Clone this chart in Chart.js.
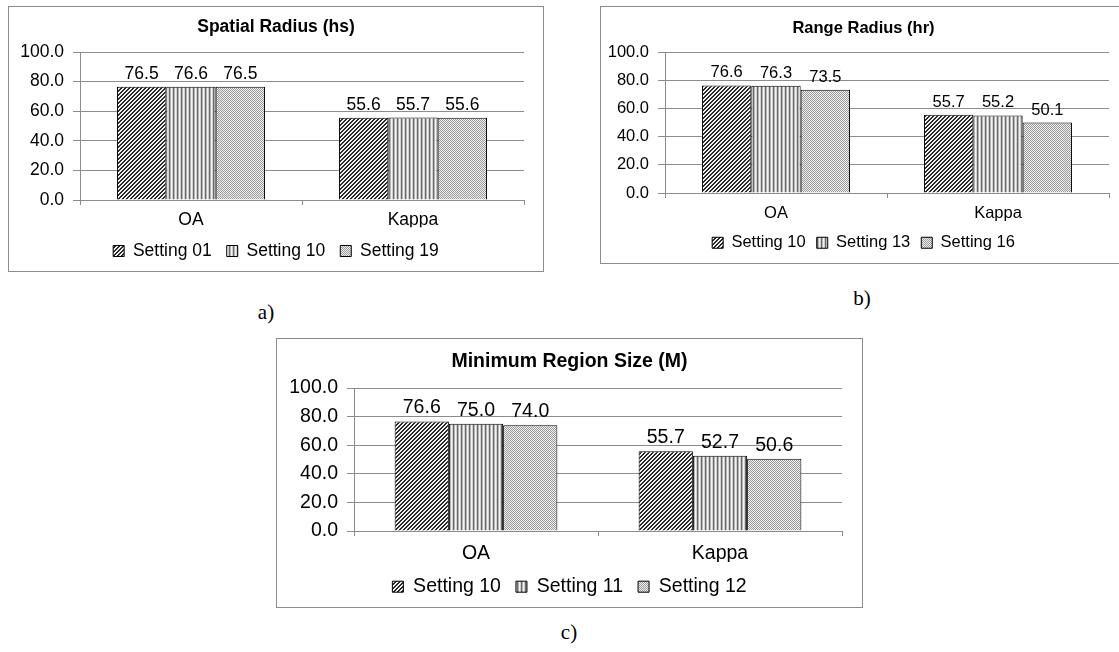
<!DOCTYPE html>
<html>
<head>
<meta charset="utf-8">
<script src="https://cdn.jsdelivr.net/npm/chart.js@4.4.0/dist/chart.umd.min.js"></script>
<style>
  html, body { margin: 0; padding: 0; background: #fff; }
  body { width: 1119px; height: 652px; position: relative; overflow: hidden; }
  .frame { position: absolute; border: 1px solid #8c8c8c; background: #fff; }
  .frame canvas { display: block; }
  .tag { position: absolute; width: 40px; text-align: center; font: 21px "Liberation Serif", "Times New Roman", serif; line-height: 24px; color: #000; }
</style>
</head>
<body>
<div class="frame" style="left:8px; top:6px;"><canvas id="chartA" width="534" height="264"></canvas></div>
<div class="frame" style="left:600px; top:6px;"><canvas id="chartB" width="525" height="256"></canvas></div>
<div class="frame" style="left:276px; top:338px;"><canvas id="chartC" width="585" height="268"></canvas></div>
<div class="tag" style="left:246px; top:300px;">a)</div>
<div class="tag" style="left:842px; top:286px;">b)</div>
<div class="tag" style="left:549px; top:620px;">c)</div>

<script>
// shared axis values
const categories = ["OA", "Kappa"];
const yMin = 0, yMax = 100, yStep = 20;

// a) Spatial Radius (hs)
const spatialSettings = ["Setting 01", "Setting 10", "Setting 19"];
const spatialS01 = [76.5, 55.6];
const spatialS10 = [76.6, 55.7];
const spatialS19 = [76.5, 55.6];

// b) Range Radius (hr)
const rangeSettings = ["Setting 10", "Setting 13", "Setting 16"];
const rangeS10 = [76.6, 55.7];
const rangeS13 = [76.3, 55.2];
const rangeS16 = [73.5, 50.1];

// c) Minimum Region Size (M)
const minSettings = ["Setting 10", "Setting 11", "Setting 12"];
const minS10 = [76.6, 55.7];
const minS11 = [75.0, 52.7];
const minS12 = [74.0, 50.6];

const FONT = '"Liberation Sans", Arial, sans-serif';
const GRID = "#8c8c8c";

// excel-like fill patterns
function makePattern(w, h, paint) {
  const c = document.createElement("canvas");
  c.width = w; c.height = h;
  const g = c.getContext("2d");
  for (let y = 0; y < h; y++) {
    for (let x = 0; x < w; x++) {
      g.fillStyle = paint(x, y);
      g.fillRect(x, y, 1, 1);
    }
  }
  return g.createPattern(c, "repeat");
}
const diagFill = makePattern(4, 4, (x, y) => ((x + y) % 4 < 2 ? "#2a2a2a" : "#f2f2f2"));
const vertFill = makePattern(4, 1, x => ["#6a6a6a", "#b4b4b4", "#f4f4f4", "#d0d0d0"][x]);
const dotFill = makePattern(2, 2, (x, y) => ((x + y) % 2 === 0 ? "#9a9a9a" : "#f0f0f0"));
const fills = [diagFill, vertFill, dotFill];

// numbers above the bars
const valueLabels = {
  id: "valueLabels",
  afterDatasetsDraw(chart, args, opts) {
    const ctx = chart.ctx;
    ctx.save();
    ctx.font = opts.size + "px " + FONT;
    ctx.fillStyle = "#000";
    ctx.textAlign = "center";
    ctx.textBaseline = "alphabetic";
    chart.data.datasets.forEach((ds, i) => {
      chart.getDatasetMeta(i).data.forEach((bar, j) => {
        ctx.fillText(ds.data[j].toFixed(1), bar.x, bar.y - opts.gap);
      });
    });
    ctx.restore();
  }
};

function drawChart(id, title, settings, series, s) {
  const ctx = document.getElementById(id).getContext("2d");
  return new Chart(ctx, {
    type: "bar",
    data: {
      labels: categories,
      datasets: series.map((vals, i) => ({
        label: settings[i],
        data: vals,
        backgroundColor: fills[i],
        borderColor: "#000",
        borderWidth: 1,
        categoryPercentage: 0.667,
        barPercentage: 1.0
      }))
    },
    options: {
      responsive: false,
      animation: false,
      devicePixelRatio: 1,
      layout: { padding: { left: 0, right: 0, top: 0, bottom: s.padBottom } },
      plugins: {
        title: {
          display: true,
          text: title,
          color: "#000",
          font: { family: FONT, size: s.titleSize, weight: "bold", lineHeight: 1.2 },
          padding: { top: s.titleTop, bottom: s.titleBottom }
        },
        legend: {
          position: "bottom",
          labels: {
            color: "#000",
            boxWidth: 11,
            boxHeight: 11,
            padding: s.legendPad,
            font: { family: FONT, size: s.size }
          }
        },
        tooltip: { enabled: false },
        valueLabels: { size: s.size, gap: 8 }
      },
      scales: {
        x: {
          grid: { display: true, drawOnChartArea: false, drawTicks: true, tickLength: 5, color: GRID },
          border: { color: GRID },
          ticks: { color: "#000", padding: s.xPad, font: { family: FONT, size: s.size } },
          afterFit: scale => { scale.height = s.xHeight; }
        },
        y: {
          min: yMin,
          max: yMax,
          grid: { color: GRID, tickLength: 7 },
          border: { color: GRID },
          ticks: {
            stepSize: yStep,
            color: "#000",
            padding: 9,
            font: { family: FONT, size: s.size },
            callback: v => v.toFixed(1)
          },
          afterFit: scale => { scale.width = s.yWidth; }
        },
        // empty space on the right, as in the spreadsheet chart
        spacer: {
          type: "linear",
          position: "right",
          grid: { display: false },
          border: { display: false },
          ticks: { display: false },
          afterFit: scale => { scale.width = s.rightGap; }
        }
      }
    },
    plugins: [valueLabels]
  });
}

drawChart("chartA", "Spatial Radius (hs)", spatialSettings, [spatialS01, spatialS10, spatialS19], {
  size: 17.5, titleSize: 17.5, titleTop: 10, titleBottom: 14,
  padBottom: 1.25, legendPad: 15, xPad: 5, xHeight: 27.25, yWidth: 71, rightGap: 19
});
drawChart("chartB", "Range Radius (hr)", rangeSettings, [rangeS10, rangeS13, rangeS16], {
  size: 16.5, titleSize: 16.5, titleTop: 11.5, titleBottom: 14.2,
  padBottom: 2, legendPad: 11, xPad: 6, xHeight: 30.5, yWidth: 64, rightGap: 17
});
drawChart("chartC", "Minimum Region Size (M)", minSettings, [minS10, minS11, minS12], {
  size: 19.5, titleSize: 19.5, titleTop: 10.8, titleBottom: 14.8,
  padBottom: 0.55, legendPad: 15, xPad: 6, xHeight: 30.95, yWidth: 77, rightGap: 20
});
</script>
</body>
</html>
